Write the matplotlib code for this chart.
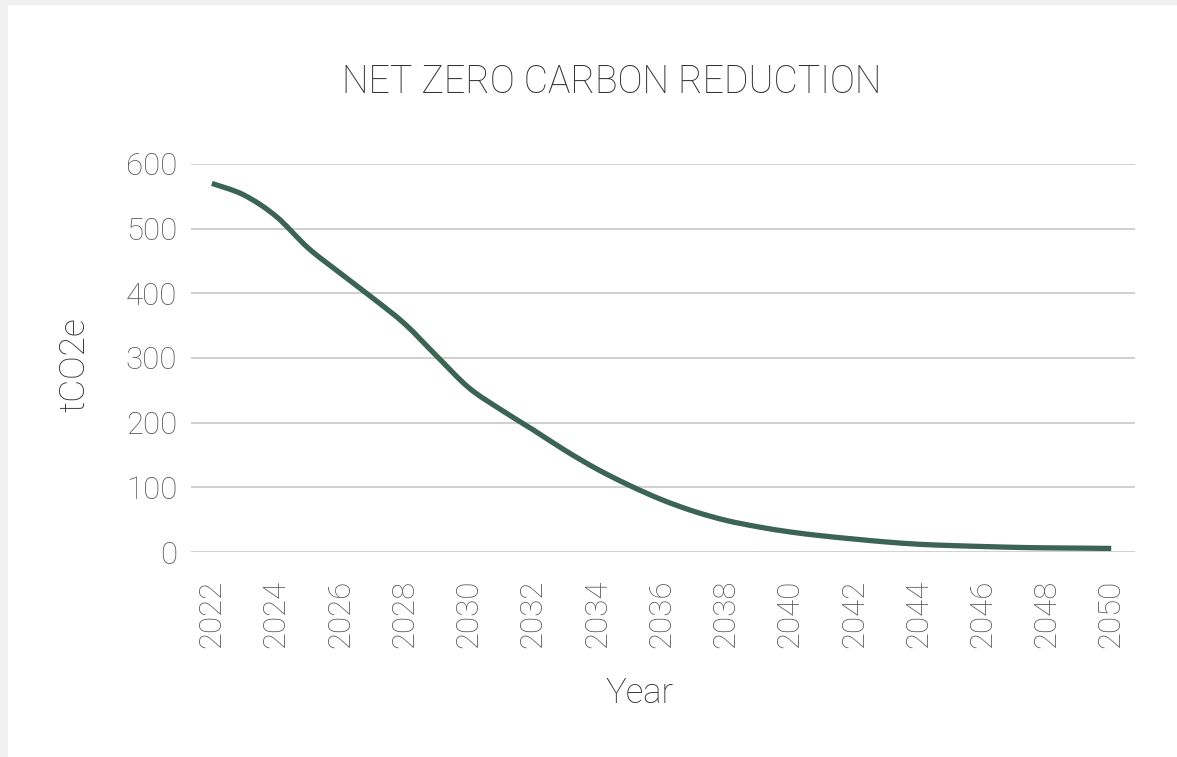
import matplotlib
matplotlib.use("Agg")
import matplotlib.pyplot as plt
from matplotlib.path import Path
from matplotlib.patches import PathPatch, Rectangle
import numpy as np

years = list(range(2022, 2051))
emissions = [570, 552, 519, 470, 431, 393, 353, 303, 254, 220, 189, 157, 128, 103,
             81, 63, 49, 39, 31, 25, 20, 15.5, 12, 10, 8.5, 7.2, 6.4, 6, 5.5]
y_ticks = [0, 100, 200, 300, 400, 500, 600]
x_ticks = list(range(2022, 2051, 2))

title = "NET ZERO CARBON REDUCTION"
xlabel = "Year"
ylabel = "tCO2e"

W, H = 1177, 757
fig = plt.figure(figsize=(W / 100, H / 100), dpi=100)
fig.patch.set_facecolor("#f0f0f0")
fig.patches.append(Rectangle((8 / W, 0), 1 - 8 / W, 1 - 5 / H, transform=fig.transFigure,
                             facecolor="white", edgecolor="none", zorder=-5))

font = ["Roboto", "DejaVu Sans"]

ax = fig.add_axes([191 / W, 1 - 552 / H, (1135 - 191) / W, (552 - 164) / H])
ax.set_facecolor("none")
ax.set_xlim(2021.35, 2050.74)
ax.set_ylim(0, 600)
for s in ax.spines.values():
    s.set_visible(False)
ax.set_yticks(y_ticks)
ax.set_xticks(x_ticks)
ax.set_xticklabels([str(x) for x in x_ticks], rotation=90)
ax.tick_params(axis="both", length=0, colors="#595959", labelsize=22.5)
ax.tick_params(axis="x", pad=20)
ax.tick_params(axis="y", pad=10)
for lab in ax.get_xticklabels() + ax.get_yticklabels():
    lab.set_family(font)
    lab.set_fontweight("light")
ax.grid(axis="y", color="#c8c8c8", linewidth=1.2)
ax.set_axisbelow(True)

# Excel-style smoothed line (Bezier through data points)
xs = np.array(years, dtype=float)
ys = np.array(emissions, dtype=float)
n = len(xs)
verts = [(xs[0], ys[0])]
codes = [Path.MOVETO]
for i in range(n - 1):
    p0 = (xs[max(i - 1, 0)], ys[max(i - 1, 0)])
    p1 = (xs[i], ys[i])
    p2 = (xs[i + 1], ys[i + 1])
    p3 = (xs[min(i + 2, n - 1)], ys[min(i + 2, n - 1)])
    c1 = (p1[0] + (p2[0] - p0[0]) / 6, p1[1] + (p2[1] - p0[1]) / 6)
    c2 = (p2[0] - (p3[0] - p1[0]) / 6, p2[1] - (p3[1] - p1[1]) / 6)
    verts += [c1, c2, p2]
    codes += [Path.CURVE4] * 3
path = Path(verts, codes)
ax.add_patch(PathPatch(path, facecolor="none", edgecolor="#3b6454", linewidth=3.8,
                       capstyle="butt", joinstyle="round", zorder=3))

fig.text(612 / W, 1 - 82 / H, title, ha="center", va="center", fontsize=27,
         color="#333333", family=font, fontweight="light")
fig.text(640 / W, 1 - 693 / H, xlabel, ha="center", va="center", fontsize=25,
         color="#333333", family=font, fontweight="light")
fig.text(75 / W, 1 - 365 / H, ylabel, ha="center", va="center", fontsize=25.5,
         color="#333333", family=font, fontweight="light", rotation=90)

fig.savefig("out.png", dpi=100, facecolor=fig.get_facecolor())
